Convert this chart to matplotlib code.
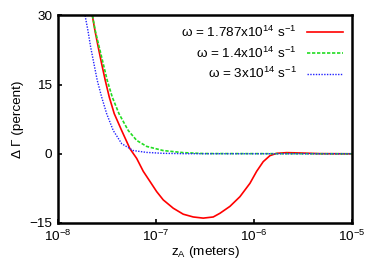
import matplotlib
matplotlib.use("Agg")
import matplotlib.pyplot as plt

plt.rcParams['font.family'] = ['Liberation Sans', 'DejaVu Sans']
plt.rcParams['mathtext.default'] = 'regular'
plt.rcParams['font.size'] = 9.7

# data
z_red = [2.24e-8, 2.385e-8, 2.577e-8, 2.792e-8, 3.039e-8, 3.338e-8, 3.753e-8,
         4.467e-8, 5.428e-8, 6.356e-8, 7.42e-8, 8.69e-8, 1.0165e-7, 1.187e-7,
         1.501e-7, 1.899e-7, 2.402e-7, 3.039e-7, 3.843e-7, 4.497e-7, 5.689e-7,
         7.196e-7, 9.104e-7, 1.0656e-6, 1.244e-6, 1.4565e-6, 1.704e-6,
         2.156e-6, 2.726e-6, 4.72e-6, 1e-5]
d_red = [30, 26.7, 23.1, 19.5, 15.9, 12.3, 8.7,
         5.05, 1.1, -1.0, -3.8, -6.0, -8.2, -10.0,
         -11.8, -13.1, -13.7, -13.95, -13.7, -12.9, -11.4,
         -9.3, -6.4, -3.8, -1.7, -0.4, 0.1,
         0.25, 0.2, 0.03, 0.0]

z_green = [2.249e-8, 2.402e-8, 2.638e-8, 2.899e-8, 3.184e-8, 3.582e-8, 4.193e-8,
           5.215e-8, 6.356e-8, 8.04e-8, 1.187e-7, 1.899e-7, 3.04e-7, 1e-5]
d_green = [30, 26.7, 23.1, 19.5, 15.9, 12.3, 8.7,
           5.05, 2.9, 1.6, 0.7, 0.25, 0.05, 0.0]

z_blue = [1.89e-8, 2.023e-8, 2.157e-8, 2.33e-8, 2.518e-8, 2.792e-8, 3.139e-8,
          3.665e-8, 4.467e-8, 5.867e-8, 8.04e-8, 1.187e-7, 2e-7, 1e-5]
d_blue = [30, 26.7, 23.1, 19.5, 15.9, 12.3, 8.7,
          5.05, 2.2, 0.7, 0.3, 0.1, 0.02, 0.0]

labels = [r'ω = 1.787x10$^{14}$ s$^{-1}$',
          r'ω = 1.4x10$^{14}$ s$^{-1}$',
          r'ω = 3x10$^{14}$ s$^{-1}$']

xticks = [1e-8, 1e-7, 1e-6, 1e-5]
xticklabels = [r'10$^{-8}$', r'10$^{-7}$', r'10$^{-6}$', r'10$^{-5}$']
yticks = [-15, 0, 15, 30]

fig = plt.figure(figsize=(3.74, 2.62), dpi=100)
ax = fig.add_axes([0.155, 0.149, 0.786, 0.792])

ax.plot(z_red, d_red, color='#ff0000', lw=1.2, ls='-', label=labels[0])
ax.plot(z_green, d_green, color='#22dd22', lw=1.2, ls=(0, (2, 1)), label=labels[1])
ax.plot(z_blue, d_blue, color='#2222ff', lw=1.0, ls=(0, (1, 1)), label=labels[2])

ax.set_xscale('log')
ax.set_xlim(1e-8, 1e-5)
ax.set_ylim(-15, 30)
ax.set_xticks(xticks)
ax.set_xticklabels(xticklabels)
ax.xaxis.set_minor_locator(matplotlib.ticker.NullLocator())
ax.set_yticks(yticks)
ax.tick_params(direction='in', length=3, width=1.2)
ax.tick_params(axis='x', pad=4)
ax.tick_params(axis='y', pad=4)
for s in ax.spines.values():
    s.set_linewidth(1.8)

ax.set_xlabel(r'z$_A$ (meters)', labelpad=0)
ax.set_ylabel('Δ Γ (percent)', labelpad=4)

leg = ax.legend(loc='upper right', frameon=False, markerfirst=False,
                handlelength=2.6, labelspacing=0.4, borderaxespad=0.3,
                handletextpad=0.8)

fig.savefig('out.png', dpi=100)
